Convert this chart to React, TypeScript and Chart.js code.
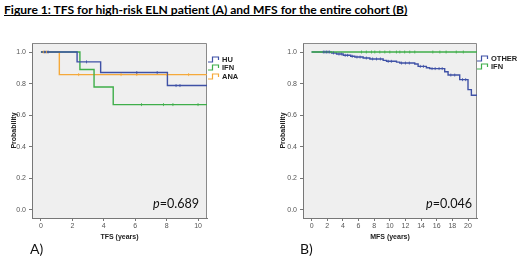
import React, { useEffect, useRef } from "react";
import { Chart, registerables } from "chart.js";
Chart.register(...registerables);

const AX_FONT = "'Liberation Sans', Arial, sans-serif";
const TXT_FONT = "Lato, 'Open Sans', sans-serif";

const BLUE = "#3f51a6";
const GREEN = "#3fae4a";
const ORANGE = "#f5a93a";

// ---- shared y axis ----
const yTicks = [0, 0.2, 0.4, 0.6, 0.8, 1.0];

// ---- Panel A: TFS ----
const aXTicks = [0, 2, 4, 6, 8, 10];
const huTimes = [0, 2.3, 3.8, 8.05, 10.57];
const huSurv = [1, 0.9375, 0.87, 0.7875, 0.7875];
const huCensor = [0.25, 0.45, 2.9, 6.1, 7.4, 8.6, 8.85];
const ifnATimes = [0, 2.48, 3.38, 4.6, 10.57];
const ifnASurv = [1, 0.889, 0.778, 0.667, 0.667];
const ifnACensor = [6.4, 7.8, 8.4, 10.0];
const anaTimes = [0, 1.17, 10.57];
const anaSurv = [1, 0.857, 0.857];
const anaCensor = [0.15, 0.35, 2.4, 5.1, 6.1, 8.0, 9.4];

// ---- Panel B: MFS ----
const bXTicks = [0, 2, 4, 6, 8, 10, 12, 14, 16, 18, 20];
const otherTimes = [0, 2.55, 3.19, 4.04, 5.0, 5.53, 6.59, 7.45, 9.15, 9.58, 10.86, 11.28, 13.19, 13.62, 14.68, 15.11, 17.02, 17.45, 18.94, 20.0, 20.43, 21.15];
const otherSurv = [1, 0.994, 0.987, 0.979, 0.973, 0.968, 0.962, 0.956, 0.947, 0.941, 0.936, 0.93, 0.924, 0.909, 0.9, 0.895, 0.875, 0.854, 0.825, 0.762, 0.726, 0.726];
const otherCensor = [1.5, 1.7, 1.9, 2.1, 2.3, 2.8, 3.5, 3.8, 4.3, 4.6, 5.2, 5.8, 6.2, 7.0, 7.8, 8.3, 8.8, 9.8, 10.2, 11.5, 12.0, 12.5, 13.9, 14.3, 15.4, 15.8, 16.3, 16.7, 17.8, 18.3, 19.3, 19.7];
const ifnBTimes = [0, 21.15];
const ifnBSurv = [1, 1];
const ifnBCensor = [6.38, 7.0, 7.66, 8.08, 8.72, 9.36, 10.0, 10.85, 11.28, 11.9, 12.55, 13.19, 15.5, 16.4, 17.2, 18.5, 19.4];

type Series = { label: string; color: string; times: number[]; surv: number[]; censor: number[] };

function stepPoints(times: number[], surv: number[]) {
  return times.map((t, i) => ({ x: t, y: surv[i] }));
}
function survAt(times: number[], surv: number[], t: number) {
  let s = surv[0];
  for (let i = 0; i < times.length; i++) if (times[i] <= t) s = surv[i];
  return s;
}

const plotPlugin = {
  id: "plotBox",
  beforeDraw(chart: any) {
    const { ctx, chartArea: a } = chart;
    ctx.save();
    ctx.fillStyle = "#efefef";
    ctx.fillRect(a.left, a.top, a.right - a.left, a.bottom - a.top);
    ctx.restore();
  },
  beforeDatasetsDraw(chart: any) {
    const { ctx, chartArea: a } = chart;
    ctx.save();
    ctx.strokeStyle = "#8a8a8a";
    ctx.lineWidth = 1;
    ctx.beginPath();
    ctx.moveTo(a.left, a.top + 0.5);
    ctx.lineTo(a.right - 0.5, a.top + 0.5);
    ctx.lineTo(a.right - 0.5, a.bottom);
    ctx.stroke();
    ctx.restore();
  },
};

type PanelProps = {
  left: number;
  width: number;
  padRight: number;
  xMin: number;
  xMax: number;
  xTicks: number[];
  xTitle: string;
  yTitlePad: number;
  series: Series[];
};

function Panel(p: PanelProps) {
  const ref = useRef<HTMLCanvasElement>(null);
  useEffect(() => {
    if (!ref.current) return;
    const datasets: any[] = [];
    p.series.forEach((s) => {
      datasets.push({
        label: s.label + " censored",
        data: s.censor.map((t) => ({ x: t, y: survAt(s.times, s.surv, t) })),
        showLine: false,
        pointStyle: "line",
        rotation: 90,
        pointRadius: 1.5,
        pointBorderWidth: 0.8,
        borderColor: s.color,
        backgroundColor: s.color,
      });
    });
    p.series.forEach((s) => {
      datasets.push({
        label: s.label,
        data: stepPoints(s.times, s.surv),
        stepped: "before",
        borderColor: s.color,
        borderWidth: 1.4,
        pointRadius: 0,
        fill: false,
      });
    });
    const chart = new Chart(ref.current, {
      type: "line",
      data: { datasets },
      plugins: [plotPlugin],
      options: {
        animation: false,
        responsive: false,
        layout: { padding: { top: 13, right: p.padRight, left: 0, bottom: 0 } },
        plugins: { legend: { display: false }, tooltip: { enabled: false } },
        scales: {
          x: {
            type: "linear",
            min: p.xMin,
            max: p.xMax,
            afterBuildTicks: (sc: any) => {
              sc.ticks = p.xTicks.map((v) => ({ value: v }));
            },
            afterFit: (sc: any) => {
              sc.height = 32;
            },
            grid: { drawOnChartArea: false, drawTicks: true, tickLength: 3, color: "#777" },
            border: { display: true, color: "#777", width: 1 },
            ticks: {
              font: { family: AX_FONT, size: 7 },
              color: "#555",
              padding: 1,
              maxRotation: 0,
              autoSkip: false,
              callback: (v: any) => String(v),
            },
            title: {
              display: true,
              text: p.xTitle,
              font: { family: AX_FONT, size: 7, weight: "bold" },
              color: "#222",
              padding: { top: 0, bottom: 9 },
            },
          },
          y: {
            type: "linear",
            min: -0.051,
            max: 1.057,
            afterBuildTicks: (sc: any) => {
              sc.ticks = yTicks.map((v) => ({ value: v }));
            },
            afterFit: (sc: any) => {
              sc.width = 32;
            },
            grid: { drawOnChartArea: false, drawTicks: true, tickLength: 3, color: "#777" },
            border: { display: true, color: "#777", width: 1 },
            ticks: {
              font: { family: AX_FONT, size: 7 },
              color: "#555",
              padding: 3,
              autoSkip: false,
              callback: (v: any) => Number(v).toFixed(1),
            },
            title: {
              display: true,
              text: "Probability",
              font: { family: AX_FONT, size: 7, weight: "bold" },
              color: "#222",
              padding: { top: p.yTitlePad, bottom: 0 },
            },
          },
        },
      } as any,
    });
    return () => chart.destroy();
  }, []);
  return (
    <canvas
      ref={ref}
      width={p.width}
      height={220}
      style={{ position: "absolute", left: p.left, top: 30, width: p.width, height: 220 }}
    />
  );
}

function LegendIcon({ color }: { color: string }) {
  return (
    <svg width={12} height={7} style={{ display: "block", marginRight: 2 }}>
      <path d="M0,6 H4.5 V1 H10.5 V4" fill="none" stroke={color} strokeWidth={1.2} />
    </svg>
  );
}

function Legend({ left, top, items }: { left: number; top: number; items: { label: string; color: string }[] }) {
  return (
    <div style={{ position: "absolute", left, top }}>
      {items.map((it) => (
        <div
          key={it.label}
          style={{
            display: "flex",
            alignItems: "center",
            height: 8.6,
            fontFamily: AX_FONT,
            fontSize: 7.5,
            fontWeight: "bold",
            color: "#222",
          }}
        >
          <LegendIcon color={it.color} />
          <span>{it.label}</span>
        </div>
      ))}
    </div>
  );
}

export default function App() {
  const seriesA: Series[] = [
    { label: "HU", color: BLUE, times: huTimes, surv: huSurv, censor: huCensor },
    { label: "IFN", color: GREEN, times: ifnATimes, surv: ifnASurv, censor: ifnACensor },
    { label: "ANA", color: ORANGE, times: anaTimes, surv: anaSurv, censor: anaCensor },
  ];
  const seriesB: Series[] = [
    { label: "IFN", color: GREEN, times: ifnBTimes, surv: ifnBSurv, censor: ifnBCensor },
    { label: "OTHER", color: BLUE, times: otherTimes, surv: otherSurv, censor: otherCensor },
  ];
  const pStyle: React.CSSProperties = {
    position: "absolute",
    top: 197,
    fontFamily: TXT_FONT,
    fontSize: 12.6,
    lineHeight: "14px",
    color: "#111",
  };
  const lblStyle: React.CSSProperties = {
    position: "absolute",
    top: 241,
    fontFamily: TXT_FONT,
    fontSize: 14,
    lineHeight: "16px",
    color: "#111",
  };
  return (
    <div style={{ position: "absolute", left: 0, top: 0, width: 520, height: 262, background: "#fff", overflow: "hidden" }}>
      <div
        style={{
          position: "absolute",
          left: 4,
          top: 2,
          fontFamily: TXT_FONT,
          fontWeight: "bold",
          fontSize: 12.1,
          lineHeight: "16px",
          textDecoration: "underline",
          textDecorationSkipInk: "none",
          whiteSpace: "nowrap",
          color: "#000",
        } as any}
      >
        Figure 1: TFS for high-risk ELN patient (A) and MFS for the entire cohort (B)
      </div>
      <Panel left={0} width={260} padRight={53} xMin={-0.57} xMax={10.57} xTicks={aXTicks} xTitle="TFS (years)" yTitlePad={10} series={seriesA} />
      <Panel left={271} width={249} padRight={43} xMin={-1.1} xMax={21.15} xTicks={bXTicks} xTitle="MFS (years)" yTitlePad={8} series={seriesB} />
      <Legend
        left={208}
        top={55}
        items={[
          { label: "HU", color: BLUE },
          { label: "IFN", color: GREEN },
          { label: "ANA", color: ORANGE },
        ]}
      />
      <Legend
        left={477}
        top={54}
        items={[
          { label: "OTHER", color: BLUE },
          { label: "IFN", color: GREEN },
        ]}
      />
      <div style={{ ...pStyle, left: 153 }}>
        <i>p</i>=0.689
      </div>
      <div style={{ ...pStyle, left: 426 }}>
        <i>p</i>=0.046
      </div>
      <div style={{ ...lblStyle, left: 30 }}>A)</div>
      <div style={{ ...lblStyle, left: 300 }}>B)</div>
    </div>
  );
}
